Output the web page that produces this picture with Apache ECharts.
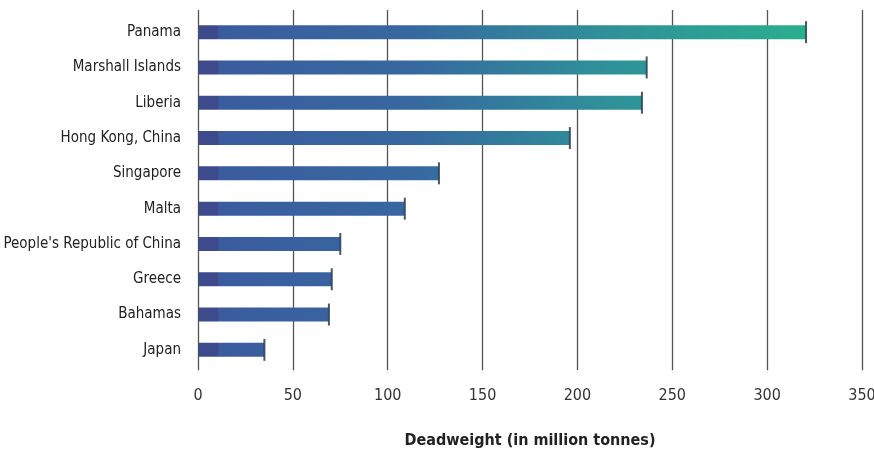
<!DOCTYPE html>
<html>
<head>
<meta charset="utf-8">
<script src="https://cdn.jsdelivr.net/npm/echarts@6/dist/echarts.min.js"></script>
<style>html,body{margin:0;padding:0;background:#fff}#c{width:874px;height:455px}</style>
</head>
<body>
<div id="c"></div>
<script>
var categories = ["Panama","Marshall Islands","Liberia","Hong Kong, China","Singapore","Malta","People's Republic of China","Greece","Bahamas","Japan"];
var deadweight = [320.5, 236.5, 234, 196, 127, 109, 75, 70.5, 69, 35];
var ticks = [0, 50, 100, 150, 200, 250, 300, 350];

var FONT = "'Liberation Sans Narrow', 'DejaVu Sans Condensed', sans-serif";
var chart = echarts.init(document.getElementById('c'));

var barGrad = {
  type: 'linear', global: true, x: 198, y: 0, x2: 806, y2: 0,
  colorStops: [
    {offset: 0, color: '#3d4a8c'},
    {offset: 0.032, color: '#3d4a8c'},
    {offset: 0.034, color: '#3a5c9e'},
    {offset: 0.35, color: '#3768a0'},
    {offset: 0.65, color: '#2f8e9a'},
    {offset: 1, color: '#2aae8e'}
  ]
};

chart.setOption({
  animation: false,
  grid: [
    {left: 198, right: 12, top: 14.5, bottom: 87.5, outerBoundsMode: 'none', containLabel: false},
    {left: 198, right: 12, top: 10, bottom: 82, outerBoundsMode: 'none', containLabel: false}
  ],
  xAxis: [
    {gridIndex: 0, type: 'value', min: 0, max: 350, interval: 50, show: false},
    {gridIndex: 1, type: 'value', min: 0, max: 350, interval: 50,
     axisLine: {show: false}, axisTick: {show: false},
     splitLine: {show: true, lineStyle: {color: '#555', width: 1.3}},
     axisLabel: {color: '#333', fontFamily: FONT, fontSize: 16, margin: 15},
     name: 'Deadweight (in million tonnes)', nameLocation: 'middle', nameGap: 60,
     nameTextStyle: {color: '#222', fontFamily: FONT, fontSize: 16, fontWeight: 'bold'}}
  ],
  yAxis: [
    {gridIndex: 0, type: 'category', data: categories, inverse: true,
     axisLine: {show: false}, axisTick: {show: false}, splitLine: {show: false},
     axisLabel: {color: '#222', fontFamily: FONT, fontSize: 15, margin: 17}},
    {gridIndex: 1, type: 'value', min: 0, max: 1, show: false}
  ],
  series: [
    {type: 'bar', xAxisIndex: 0, yAxisIndex: 0, data: deadweight, barWidth: 14,
     itemStyle: {color: barGrad}, z: 3},
    {type: 'scatter', xAxisIndex: 0, yAxisIndex: 0, symbol: 'rect', symbolSize: [2, 22],
     data: deadweight.map(function (v, i) { return [v, categories[i]]; }),
     itemStyle: {color: '#3b4250', opacity: 0.9}, z: 4},
    {type: 'scatter', xAxisIndex: 1, yAxisIndex: 1, symbol: 'emptyCircle', symbolSize: 4,
     data: ticks.map(function (t) { return [t, 0]; }),
     itemStyle: {color: '#fff', borderColor: '#777', borderWidth: 1}, z: 2}
  ]
});
</script>
</body>
</html>
